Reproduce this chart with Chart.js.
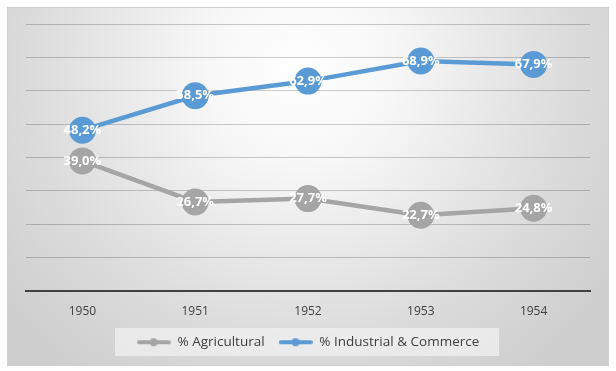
<!DOCTYPE html>
<html>
<head>
<meta charset="utf-8">
<script src="https://cdn.jsdelivr.net/npm/chart.js@4.4.1/dist/chart.umd.min.js"></script>
<style>
html,body{margin:0;padding:0;background:#ffffff;}
#wrap{position:absolute;left:0;top:0;width:616px;height:371px;}
</style>
</head>
<body>
<div id="wrap"><canvas id="c" width="616" height="371"></canvas></div>
<script>
const years = ["1950", "1951", "1952", "1953", "1954"];
const agricultural = [39.0, 26.7, 27.7, 22.7, 24.8];
const industrial = [48.2, 58.5, 62.9, 68.9, 67.9];
const seriesNames = ["% Agricultural", "% Industrial & Commerce"];
const yMin = 0, yMax = 80, yStep = 10;

const GREY = "#A5A5A5", BLUE = "#5B9BD5";
const FONT = "'Open Sans', 'Noto Sans', sans-serif";

function legendIcon(color) {
  const cv = document.createElement("canvas");
  cv.width = 34; cv.height = 10;
  const g = cv.getContext("2d");
  g.strokeStyle = color; g.lineWidth = 4; g.lineCap = "round";
  g.beginPath(); g.moveTo(2, 5); g.lineTo(32, 5); g.stroke();
  g.fillStyle = color; g.beginPath(); g.arc(17, 5, 4, 0, Math.PI * 2); g.fill();
  return cv;
}

const bgPlugin = {
  id: "bg",
  beforeDraw(chart) {
    const ctx = chart.ctx;
    ctx.save();
    ctx.fillStyle = "#ffffff";
    ctx.fillRect(0, 0, chart.width, chart.height);
    const x0 = 7, y0 = 7, x1 = 609, y1 = 366;
    const grd = ctx.createRadialGradient(300, 70, 0, 300, 70, 380);
    grd.addColorStop(0, "#ffffff");
    grd.addColorStop(0.25, "#f7f7f7");
    grd.addColorStop(0.7, "#dcdcdc");
    grd.addColorStop(1, "#cecece");
    ctx.fillStyle = grd;
    ctx.fillRect(x0, y0, x1 - x0, y1 - y0);
    ctx.strokeStyle = "#d0d0d0";
    ctx.lineWidth = 1;
    ctx.strokeRect(x0 + 0.5, y0 + 0.5, x1 - x0 - 1, y1 - y0 - 1);
    const lg = chart.legend;
    if (lg) {
      const cy = lg.legendHitBoxes.length ? lg.legendHitBoxes[0].top + lg.legendHitBoxes[0].height / 2 : 341;
      ctx.fillStyle = "rgba(240,240,240,0.75)";
      ctx.fillRect(115, Math.round(cy - 14), 384, 28);
    }
    ctx.restore();
  }
};

const labelPlugin = {
  id: "dlabels",
  afterDatasetsDraw(chart) {
    const ctx = chart.ctx;
    ctx.save();
    ctx.font = "bold 13px " + FONT;
    ctx.fillStyle = "#ffffff";
    ctx.textAlign = "center";
    ctx.textBaseline = "middle";
    chart.data.datasets.forEach((ds, i) => {
      const meta = chart.getDatasetMeta(i);
      meta.data.forEach((pt, j) => {
        const v = ds.data[j];
        ctx.fillText(v.toFixed(1).replace(".", ",") + "%", pt.x, pt.y);
      });
    });
    ctx.restore();
  }
};

new Chart(document.getElementById("c"), {
  type: "line",
  data: {
    labels: years,
    datasets: [
      {
        label: seriesNames[0], data: agricultural,
        borderColor: GREY, backgroundColor: GREY, borderWidth: 4.5,
        pointRadius: 13.5, pointHoverRadius: 13.5, pointBackgroundColor: GREY, pointBorderWidth: 0,
        pointStyle: "circle", tension: 0
      },
      {
        label: seriesNames[1], data: industrial,
        borderColor: BLUE, backgroundColor: BLUE, borderWidth: 4.5,
        pointRadius: 13.5, pointHoverRadius: 13.5, pointBackgroundColor: BLUE, pointBorderWidth: 0,
        pointStyle: "circle", tension: 0
      }
    ]
  },
  options: {
    responsive: false,
    animation: false,
    events: [],
    layout: { padding: { left: 26, right: 26, top: 24, bottom: 12 } },
    scales: {
      x: {
        offset: true,
        grid: { display: false, drawTicks: false },
        border: { display: true, color: "#404040", width: 2 },
        ticks: { color: "#404040", font: { family: FONT, size: 12 }, padding: 13 },
        afterFit(scale) { scale.height = scale.height - 10; }
      },
      y: {
        min: yMin, max: yMax,
        ticks: { display: false, stepSize: yStep },
        grid: { color: "rgba(0,0,0,0.2)", lineWidth: 1, drawTicks: false },
        border: { display: false }
      }
    },
    plugins: {
      legend: {
        position: "bottom",
        labels: {
          usePointStyle: true,
          pointStyleWidth: 34,
          generateLabels(chart) {
            return chart.data.datasets.map((ds, i) => ({
              text: ds.label,
              pointStyle: legendIcon(ds.borderColor),
              fillStyle: ds.borderColor,
              strokeStyle: ds.borderColor,
              lineWidth: 0,
              fontColor: "#404040",
              datasetIndex: i,
              hidden: false
            }));
          },
          color: "#404040",
          font: { family: FONT, size: 13.5 },
          boxWidth: 34, boxHeight: 10, padding: 14
        }
      },
      tooltip: { enabled: false }
    }
  },
  plugins: [bgPlugin, labelPlugin]
});
</script>
</body>
</html>
